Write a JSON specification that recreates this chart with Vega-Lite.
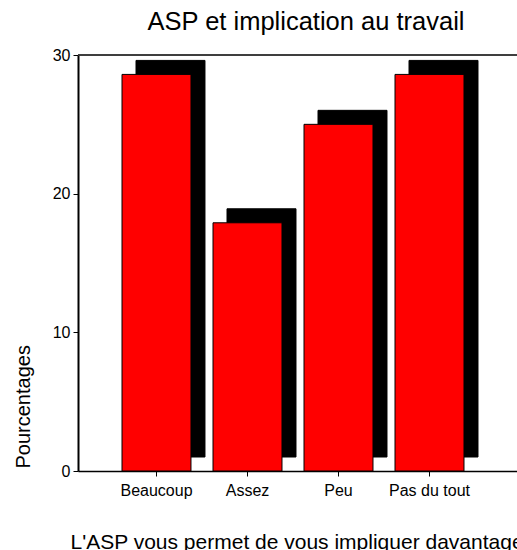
{
  "$schema": "https://vega.github.io/schema/vega-lite/v6.json",
  "width": 439,
  "height": 416,
  "autosize": {"type": "none"},
  "padding": {"left": 78, "top": 55, "right": 0, "bottom": 79},
  "background": "white",
  "config": {
    "view": {"stroke": null},
    "font": "Liberation Sans"
  },
  "title": {
    "text": "ASP et implication au travail",
    "fontSize": 25.5,
    "font": "Liberation Sans",
    "fontWeight": "normal",
    "color": "black",
    "anchor": "middle",
    "frame": "group",
    "dx": 8.5,
    "offset": 12
  },
  "data": {
    "values": [
      {"reponse": "Beaucoup", "pourcentage": 28.6},
      {"reponse": "Assez", "pourcentage": 17.9},
      {"reponse": "Peu", "pourcentage": 25.0},
      {"reponse": "Pas du tout", "pourcentage": 28.6}
    ]
  },
  "encoding": {
    "x": {
      "field": "reponse",
      "type": "nominal",
      "sort": null,
      "scale": {"paddingInner": 0.242, "paddingOuter": 0.533, "align": 0.4536},
      "axis": {
        "title": "L'ASP vous permet de vous impliquer davantage",
        "labelAngle": 0,
        "labelFontSize": 16,
        "labelColor": "black",
        "labelBaseline": "alphabetic",
        "labelPadding": 19,
        "tickSize": 5,
        "tickColor": "black",
        "domainColor": "black",
        "domainWidth": 1.5,
        "titleFontSize": 21,
        "titleFontWeight": "normal",
        "titleColor": "black",
        "titleAlign": "left",
        "titleBaseline": "alphabetic",
        "titleX": -8,
        "titleY": 77
      }
    }
  },
  "layer": [
    {
      "mark": {"type": "rule", "color": "#333333", "strokeWidth": 1},
      "encoding": {"x": null, "y": {"datum": 30, "type": "quantitative"}}
    },
    {
      "mark": {"type": "bar", "color": "black", "stroke": "black", "strokeWidth": 1, "xOffset": 14, "yOffset": -14, "y2Offset": -14},
      "encoding": {
        "y": {
          "field": "pourcentage",
          "type": "quantitative",
          "scale": {"domain": [0, 30], "nice": false},
          "axis": {
            "values": [0, 10, 20, 30],
            "grid": false,
            "labelFontSize": 16,
            "labelColor": "black",
            "labelPadding": 3,
            "tickSize": 5,
            "tickColor": "black",
            "domainColor": "black",
            "domainWidth": 2,
            "title": "Pourcentages",
            "titleFontSize": 20,
            "titleFontWeight": "normal",
            "titleColor": "black",
            "titleAlign": "left",
            "titleBaseline": "alphabetic",
            "titleAngle": -90,
            "titleX": -49,
            "titleY": 413
          }
        }
      }
    },
    {
      "mark": {"type": "bar", "color": "#ff0000", "stroke": "black", "strokeWidth": 1},
      "encoding": {
        "y": {"field": "pourcentage", "type": "quantitative"}
      }
    }
  ]
}
